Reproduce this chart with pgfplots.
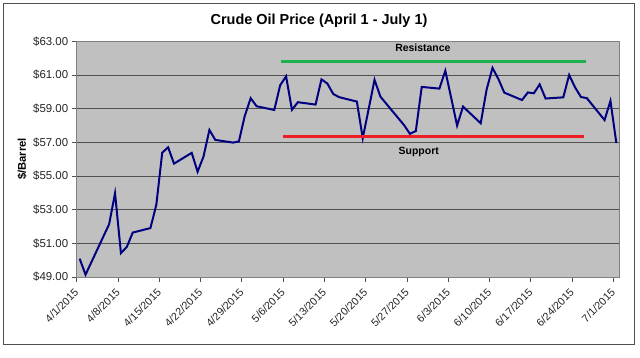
\documentclass[border=0pt]{standalone}
\usepackage{pgfplots}
\pgfplotsset{compat=1.18}
\usepackage{pgfplotstable}
\usepackage{fontspec}
\setmainfont{Liberation Sans}
\definecolor{plotbg}{HTML}{C0C0C0}
\definecolor{navyline}{HTML}{000080}
\definecolor{resgreen}{HTML}{1DB14B}
\definecolor{supred}{HTML}{EE1C25}
\definecolor{gridc}{HTML}{505050}
\definecolor{framec}{HTML}{808080}

\pgfplotstableread{
d price
0 50.09
1 49.14
5 52.14
6 53.98
7 50.42
8 50.79
9 51.64
12 51.91
13 53.29
14 56.39
15 56.71
16 55.74
19 56.38
20 55.26
21 56.16
22 57.74
23 57.15
26 56.99
27 57.06
28 58.58
29 59.63
30 59.15
33 58.93
34 60.40
35 60.93
36 58.94
37 59.39
40 59.25
41 60.75
42 60.50
43 59.88
44 59.69
47 59.43
48 57.26
49 58.98
50 60.72
51 59.72
55 58.03
56 57.51
57 57.68
58 60.30
61 60.20
62 61.26
63 59.64
64 58.00
65 59.13
68 58.14
69 60.14
70 61.43
71 60.77
72 59.96
75 59.52
76 59.97
77 59.92
78 60.45
79 59.61
82 59.68
83 61.01
84 60.27
85 59.70
86 59.63
89 58.33
90 59.47
91 56.96
}\oil

\begin{document}
\begin{tikzpicture}[x=1bp,y=1bp]
\useasboundingbox (0,0) rectangle (640,357);
\fill[white] (0,0) rectangle (640,357);
\draw[color=gridc, line width=1bp] (3.3,13) rectangle (634.3,353.7);
\node[font=\bfseries\fontsize{14.5}{17}\selectfont] at (319,336) {Crude Oil Price (April 1 - July 1)};
\begin{axis}[
  at={(76.7bp,80bp)}, anchor=south west,
  scale only axis, width=542.6bp, height=235.5bp,
  xmin=-0.5, xmax=91.5, ymin=49, ymax=63,
  axis background/.style={fill=plotbg},
  axis line style={color=framec, line width=0.8bp},
  ytick={49,51,53,55,57,59,61,63},
  yticklabels={\$49.00,\$51.00,\$53.00,\$55.00,\$57.00,\$59.00,\$61.00,\$63.00},
  xtick={-0.5,6.5,13.5,20.5,27.5,34.5,41.5,48.5,55.5,62.5,69.5,76.5,83.5,90.5},
  xticklabels={4/1/2015,4/8/2015,4/15/2015,4/22/2015,4/29/2015,5/6/2015,5/13/2015,5/20/2015,5/27/2015,6/3/2015,6/10/2015,6/17/2015,6/24/2015,7/1/2015},
  xtick pos=bottom, ytick pos=left,
  tick align=outside, major tick length=5bp,
  tick style={color=gridc, line width=0.8bp},
  ymajorgrids, grid style={color=gridc, line width=0.9bp},
  /pgf/number format/assume math mode=true,
  ticklabel style={font=\fontsize{11.5}{13}\selectfont, text=black!85},
  xticklabel shift=5bp,
  x tick label style={font=\fontsize{10.8}{12}\selectfont, xshift=-3bp, rotate=45, anchor=north east, inner sep=0.5bp},
  every axis y label/.style={at={(axis description cs:-0.1008,0.501)}, rotate=90, anchor=center},
  ylabel={\$/Barrel},
  ylabel style={font=\bfseries\fontsize{11.3}{13}\selectfont},
  clip=false,
]
\addplot[navyline, line width=2bp] table[x=d,y=price]{\oil};
\addplot[resgreen, line width=3bp] coordinates {(34.1,61.82) (85.9,61.82)};
\addplot[supred, line width=3bp] coordinates {(34.5,57.33) (85.5,57.33)};
\node[font=\bfseries\fontsize{10.5}{12}\selectfont] at (axis cs:58.2,62.61) {Resistance};
\node[font=\bfseries\fontsize{10.5}{12}\selectfont] at (axis cs:57.5,56.46) {Support};
\end{axis}
\end{tikzpicture}
\end{document}
